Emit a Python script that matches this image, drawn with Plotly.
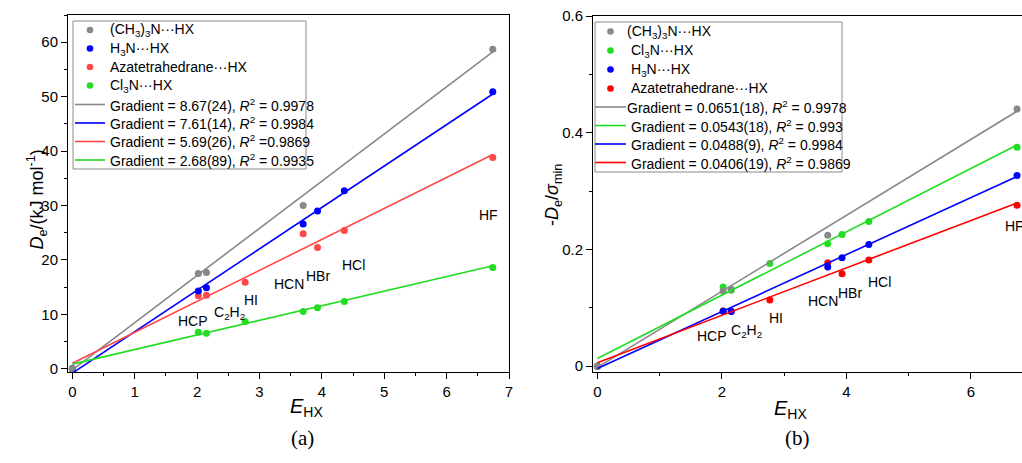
import numpy as np
import plotly.graph_objects as go

# ---------------- data ----------------
# Panel (a): D_e / (kJ mol^-1) vs E_HX
E_tma = [0, 2.02, 2.15, 3.70, 6.74]
De_tma = [0, 17.5, 17.7, 30.0, 58.7]
E_nh3 = [0, 2.02, 2.15, 3.70, 3.93, 4.36, 6.74]
De_nh3 = [0, 14.3, 14.9, 26.6, 29.0, 32.7, 50.9]
E_aza = [0, 2.02, 2.15, 2.77, 3.70, 3.93, 4.36, 6.74]
De_aza = [0, 13.4, 13.5, 15.9, 24.8, 22.3, 25.4, 38.8]
E_ncl3 = [0, 2.02, 2.15, 2.77, 3.70, 3.93, 4.36, 6.74]
De_ncl3 = [0, 6.7, 6.5, 8.7, 10.5, 11.2, 12.35, 18.6]

# fitted lines (slope, intercept) panel (a)
fit_a_slope = [8.67, 7.61, 5.69, 2.68]
fit_a_icpt = [-0.2, -0.8, 1.0, 0.85]
fit_a_text = ["Gradient = 8.67(24), <i>R</i><sup>2</sup> = 0.9978",
              "Gradient = 7.61(14), <i>R</i><sup>2</sup> = 0.9984",
              "Gradient = 5.69(26), <i>R</i><sup>2</sup> =0.9869",
              "Gradient = 2.68(89), <i>R</i><sup>2</sup> = 0.9935"]

# Panel (b): -D_e / sigma_min vs E_HX
Eb_tma = [0, 2.02, 2.15, 3.70, 6.74]
S_tma = [0, 0.129, 0.132, 0.2245, 0.4405]
Eb_ncl3 = [0, 2.02, 2.15, 2.77, 3.70, 3.93, 4.36, 6.74]
S_ncl3 = [0, 0.1356, 0.130, 0.176, 0.2097, 0.2256, 0.248, 0.375]
Eb_nh3 = [0, 2.02, 2.15, 3.70, 3.93, 4.36, 6.74]
S_nh3 = [0, 0.094, 0.0935, 0.1698, 0.1857, 0.2085, 0.3265]
Eb_aza = [0, 2.02, 2.15, 2.77, 3.70, 3.93, 4.36, 6.74]
S_aza = [0, 0.0945, 0.094, 0.1133, 0.1772, 0.1584, 0.1817, 0.2757]

fit_b_slope = [0.0651, 0.0543, 0.0488, 0.0406]
fit_b_icpt = [-0.002, 0.013, -0.004, 0.006]
fit_b_text = ["Gradient = 0.0651(18), <i>R</i><sup>2</sup> = 0.9978",
              "Gradient = 0.0543(18), <i>R</i><sup>2</sup> = 0.993",
              "Gradient = 0.0488(9), <i>R</i><sup>2</sup> = 0.9984",
              "Gradient = 0.0406(19), <i>R</i><sup>2</sup> = 0.9869"]

names_a = ["(CH<sub>3</sub>)<sub>3</sub>N···HX", "H<sub>3</sub>N···HX",
           "Azatetrahedrane···HX", "Cl<sub>3</sub>N···HX"]
names_b = ["(CH<sub>3</sub>)<sub>3</sub>N···HX", "Cl<sub>3</sub>N···HX",
           "H<sub>3</sub>N···HX", "Azatetrahedrane···HX"]

labels = ["HCP", "C<sub>2</sub>H<sub>2</sub>", "HI", "HCN", "HBr", "HCl", "HF"]
lab_a_x = [1.94, 2.52, 2.87, 3.48, 3.94, 4.50, 6.67]
lab_a_y = [8.7, 10.3, 12.7, 15.6, 17.1, 19.0, 28.3]
lab_b_x = [1.84, 2.40, 2.87, 3.63, 4.05, 4.53, 6.70]
lab_b_y = [0.052, 0.061, 0.082, 0.111, 0.126, 0.145, 0.240]

# ---------------- style ----------------
GRAY = "#888888"
BLUE = "#0000ff"
RED_A = "#ff4848"
RED_B = "#ff0000"
GREEN = "#22dd22"
FONT = "Liberation Sans, Arial, sans-serif"
W, H = 1022, 463


def px_x(p):
    return p / W


def px_y(p):
    return (H - p) / H


fig = go.Figure()

# panel a
pts_a = [(E_tma, De_tma, GRAY), (E_nh3, De_nh3, BLUE), (E_aza, De_aza, RED_A), (E_ncl3, De_ncl3, GREEN)]
for i, (ex, ey, c) in reversed(list(enumerate(pts_a))):
    fig.add_trace(go.Scatter(x=ex, y=ey, mode="markers", marker=dict(color=c, size=7),
                             name=names_a[i], xaxis="x", yaxis="y", cliponaxis=False,
                             showlegend=False))
for i, (ex, ey, c) in enumerate(pts_a):
    xl = np.array([min(ex), max(ex)])
    fig.add_trace(go.Scatter(x=xl, y=fit_a_slope[i] * xl + fit_a_icpt[i], mode="lines",
                             line=dict(color=c, width=1.6), name=fit_a_text[i],
                             xaxis="x", yaxis="y", showlegend=False))

# panel b
pts_b = [(Eb_tma, S_tma, GRAY), (Eb_ncl3, S_ncl3, GREEN), (Eb_nh3, S_nh3, BLUE), (Eb_aza, S_aza, RED_B)]
for i, (ex, ey, c) in reversed(list(enumerate(pts_b))):
    fig.add_trace(go.Scatter(x=ex, y=ey, mode="markers", marker=dict(color=c, size=7),
                             name=names_b[i], xaxis="x2", yaxis="y2", cliponaxis=False,
                             showlegend=False))
for i, (ex, ey, c) in enumerate(pts_b):
    xl = np.array([min(ex), max(ex)])
    fig.add_trace(go.Scatter(x=xl, y=fit_b_slope[i] * xl + fit_b_icpt[i], mode="lines",
                             line=dict(color=c, width=1.6), name=fit_b_text[i],
                             xaxis="x2", yaxis="y2", showlegend=False))

axis_common = dict(showline=True, linecolor="black", linewidth=1,
                   ticks="outside", ticklen=6, tickcolor="black", showgrid=False,
                   zeroline=False, automargin=False,
                   tickfont=dict(family=FONT, size=15, color="black"))

fig.update_layout(
    width=W, height=H, autosize=False,
    margin=dict(l=0, r=0, t=0, b=0, pad=0),
    paper_bgcolor="white", plot_bgcolor="white",
    font=dict(family=FONT, color="black"),
    showlegend=False,
    xaxis=dict(domain=[px_x(68), px_x(509)], range=[-0.07, 7.0], dtick=1, mirror=True,
               minor=dict(ticks="outside", ticklen=3, dtick=0.5, tickcolor="black"),
               anchor="y", **axis_common),
    yaxis=dict(domain=[px_y(372), px_y(15)], range=[-0.6, 65], dtick=10, mirror=True,
               minor=dict(ticks="outside", ticklen=3, dtick=5, tickcolor="black"),
               anchor="x", **axis_common),
    xaxis2=dict(domain=[px_x(593), 1.0], range=[-0.07, 6.82], dtick=2, mirror=True,
                minor=dict(ticks="outside", ticklen=3, dtick=1, tickcolor="black"),
                anchor="y2", **axis_common),
    yaxis2=dict(domain=[px_y(372), px_y(16)], range=[-0.01, 0.6], dtick=0.2, mirror=False,
                minor=dict(ticks="outside", ticklen=3, dtick=0.1, tickcolor="black"),
                anchor="x2", **axis_common),
)

ann = []
shapes = []


# ---- hand-drawn legends (tight row spacing as in the reference) ----
def add_legend(box, rows_y, mark_x, line_x0, line_x1, text_x, entries):
    x0, y0, x1, y1 = box
    shapes.append(dict(type="rect", xref="paper", yref="paper",
                       x0=px_x(x0), x1=px_x(x1), y0=px_y(y1), y1=px_y(y0),
                       line=dict(color="#8a8a8a", width=1), fillcolor="rgba(0,0,0,0)"))
    for (kind, color, text), ry, tx in zip(entries, rows_y, text_x):
        if kind == "marker":
            r = 3.3
            shapes.append(dict(type="circle", xref="paper", yref="paper",
                               x0=px_x(mark_x - r), x1=px_x(mark_x + r),
                               y0=px_y(ry + r), y1=px_y(ry - r),
                               line=dict(color=color, width=0), fillcolor=color))
        else:
            shapes.append(dict(type="line", xref="paper", yref="paper",
                               x0=px_x(line_x0), x1=px_x(line_x1), y0=px_y(ry), y1=px_y(ry),
                               line=dict(color=color, width=1.6)))
        ann.append(dict(text=text, x=px_x(tx), y=px_y(ry), xref="paper", yref="paper",
                        xanchor="left", yanchor="middle", showarrow=False,
                        font=dict(family=FONT, size=14, color="black")))


cols_a = [GRAY, BLUE, RED_A, GREEN]
entries_a = [("marker", c, n) for c, n in zip(cols_a, names_a)] + \
            [("line", c, t) for c, t in zip(cols_a, fit_a_text)]
add_legend((73, 21, 306, 169), [30, 48.5, 67, 85.5, 104.5, 123, 141.5, 160],
           90, 75, 105, [108] * 8, entries_a)

cols_b = [GRAY, GREEN, BLUE, RED_B]
entries_b = [("marker", c, n) for c, n in zip(cols_b, names_b)] + \
            [("line", c, t) for c, t in zip(cols_b, fit_b_text)]
add_legend((595, 22, 842, 172), [31.5, 50.5, 69.5, 88.5, 107, 125.5, 144, 162.5],
           610.5, 595, 626, [625, 629, 629, 629, 625, 629, 629, 629], entries_b)

# ---- point labels ----
for t, x, y in zip(labels, lab_a_x, lab_a_y):
    ann.append(dict(text=t, x=x, y=y, xref="x", yref="y", showarrow=False,
                    font=dict(family=FONT, size=14, color="black")))
for t, x, y in zip(labels, lab_b_x, lab_b_y):
    ann.append(dict(text=t, x=x, y=y, xref="x2", yref="y2", showarrow=False,
                    font=dict(family=FONT, size=14, color="black")))

# axis titles and panel captions
ann += [
    dict(text="<i>E</i><sub>HX</sub>", x=px_x(288), y=px_y(422), xref="paper", yref="paper",
         showarrow=False, font=dict(family=FONT, size=20)),
    dict(text="<i>E</i><sub>HX</sub>", x=px_x(809), y=px_y(424), xref="paper", yref="paper",
         showarrow=False, font=dict(family=FONT, size=20)),
    dict(text="(a)", x=px_x(289), y=px_y(452), xref="paper", yref="paper",
         showarrow=False, font=dict(family="Liberation Serif, Times New Roman, serif", size=21)),
    dict(text="(b)", x=px_x(812), y=px_y(452), xref="paper", yref="paper",
         showarrow=False, font=dict(family="Liberation Serif, Times New Roman, serif", size=21)),
    dict(text="<i>D</i><sub>e</sub>/(kJ mol<sup>-1</sup>)", x=px_x(22), y=px_y(200),
         xref="paper", yref="paper", showarrow=False, textangle=-90,
         font=dict(family=FONT, size=18)),
    dict(text="-<i>D</i><sub>e</sub>/<i>σ</i><sub>min</sub>", x=px_x(553), y=px_y(195),
         xref="paper", yref="paper", showarrow=False, textangle=-90,
         font=dict(family=FONT, size=18)),
]
fig.update_layout(annotations=ann, shapes=shapes)

fig.write_html("out.html")
